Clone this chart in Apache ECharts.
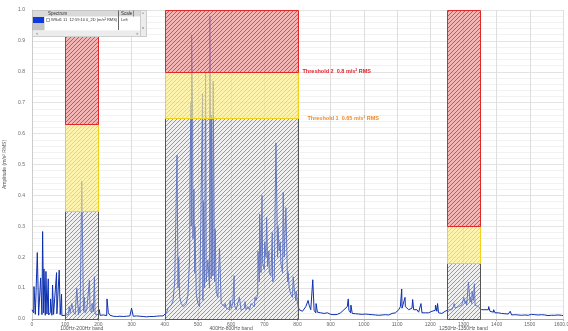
<!DOCTYPE html>
<html>
<head>
<meta charset="utf-8">
<script src="https://cdn.jsdelivr.net/npm/echarts@6/dist/echarts.min.js"></script>
<style>html,body{margin:0;padding:0;background:#fff}#c{width:568px;height:331px}</style>
</head>
<body>
<div id="c"></div>
<script>
// ---- DATA ----
const baseStepHz = 5;
const baselineAmp = [
 0.03,0.02,0.015,0.02,0.012,0.018,0.014,0.02,0.012,0.016,0.013,0.02,0.012,0.015,0.011,0.017,0.012,0.014,0.011,0.016,
 0.012,0.018,0.015,0.02,0.013,0.022,0.015,0.018,0.014,0.02,0.016,0.025,0.02,0.03,0.035,0.028,0.02,0.024,0.016,0.02,
 0.014,0.012,0.01,0.013,0.009,0.011,0.02,0.012,0.01,0.009,0.011,0.008,0.01,0.009,0.012,0.008,0.01,0.009,0.011,0.01,
 0.012,0.009,0.008,0.01,0.008,0.009,0.011,0.008,0.009,0.007,0.01,0.008,0.009,0.008,0.01,0.009,0.008,0.01,0.012,0.01,
 0.012,0.02,0.035,0.03,0.045,0.06,0.09,0.12,0.1,0.07,0.05,0.04,0.035,0.05,0.08,0.2,0.3,0.26,0.15,0.08,
 0.05,0.04,0.035,0.06,0.1,0.12,0.15,0.1,0.13,0.14,0.12,0.09,0.07,0.06,0.05,0.045,0.04,0.035,0.04,0.03,
 0.035,0.05,0.045,0.03,0.025,0.03,0.028,0.025,0.035,0.03,0.04,0.03,0.035,0.045,0.04,0.06,0.08,0.12,0.15,0.18,
 0.16,0.2,0.17,0.15,0.14,0.12,0.13,0.16,0.2,0.22,0.18,0.15,0.2,0.17,0.12,0.1,0.08,0.07,0.1,0.06,
 0.05,0.03,0.035,0.025,0.03,0.04,0.035,0.045,0.03,0.025,0.028,0.02,0.022,0.018,0.02,0.016,0.018,0.015,0.02,0.016,
 0.015,0.018,0.014,0.016,0.015,0.017,0.02,0.025,0.03,0.035,0.04,0.028,0.02,0.018,0.015,0.017,0.014,0.016,0.013,0.015,
 0.014,0.016,0.013,0.015,0.012,0.014,0.016,0.013,0.015,0.012,0.014,0.013,0.016,0.014,0.015,0.013,0.016,0.018,0.015,0.02,
 0.025,0.03,0.04,0.035,0.03,0.04,0.035,0.03,0.028,0.035,0.03,0.025,0.03,0.022,0.025,0.02,0.025,0.02,0.018,0.02,
 0.022,0.025,0.03,0.028,0.025,0.02,0.022,0.018,0.02,0.025,0.028,0.03,0.035,0.03,0.04,0.035,0.03,0.04,0.035,0.045,
 0.04,0.05,0.045,0.06,0.055,0.05,0.06,0.045,0.05,0.04,0.035,0.03,0.035,0.03,0.025,0.03,0.025,0.02,0.022,0.02,
 0.018,0.02,0.016,0.018,0.015,0.017,0.014,0.016,0.015,0.013,0.015,0.014,0.016,0.013,0.015,0.012,0.014,0.013,0.015,0.012,
 0.013,0.015,0.012,0.014,0.011,0.013,0.012,0.014,0.011,0.013,0.012,0.011,0.013,0.012,0.01,0.012,0.011,0.013,0.01,0.012,0.011
];
const peakFreq = [6,16,26,32,36,42,49,56,62,74,82,89,
 112,120,135,142,150,158,173,181,188,203,226,300,
 430,437,442,476,479,481,484,488,491,514,517,523,530,536,541,546,552,565,582,597,609,625,642,660,672,
 681,686,693,701,707,714,724,735,741,748,757,765,772,787,796,
 832,846,856,953,961,1114,1124,1147,1172,1216,1222,
 1272,1286,1301,1308,1315,1321,1326,1333,1341,1376,1391,1441];
const peakAmp = [0.105,0.215,0.133,0.283,0.162,0.154,0.13,0.065,0.11,0.15,0.158,0.08,
 0.04,0.05,0.1,0.04,0.446,0.07,0.125,0.05,0.137,0.03,0.065,0.035,
 0.12,0.53,0.2,0.45,0.7,0.92,0.66,0.42,0.3,0.73,0.38,0.80,0.19,0.98,0.66,0.77,0.29,0.23,0.05,0.06,0.14,0.07,0.056,0.05,0.07,
 0.22,0.34,0.40,0.25,0.33,0.22,0.28,0.57,0.3,0.25,0.41,0.36,0.15,0.137,0.09,
 0.06,0.127,0.05,0.065,0.045,0.097,0.07,0.063,0.05,0.045,0.05,
 0.05,0.045,0.07,0.06,0.12,0.07,0.09,0.114,0.05,0.04,0.03,0.025];

const bandStart = [100, 400, 1250];
const bandEnd = [200, 800, 1350];
const bandLevel1 = [0.35, 0.65, 0.18];
const bandLevel2 = [0.63, 0.80, 0.30];
const bandTop = 1.0;
const bandLabels = ['100Hz-200Hz band', '400Hz-800Hz band', '1250Hz-1350Hz band'];

const thresholdLabels = ['Threshold 2  0.8 m/s\u00b2 RMS', 'Threshold 1  0.65 m/s\u00b2 RMS'];
const thresholdValues = [0.8, 0.65];

const seriesName = 'WSd1 11  12:59:10 0_2D (m/s\u00b2 RMS)';
const xTicksMax = 1600;

// ---- BUILD ----
const pts = new Map();
baselineAmp.forEach((v, i) => pts.set(i * baseStepHz, v));
peakFreq.forEach((f, i) => pts.set(f, peakAmp[i]));
const spectrum = Array.from(pts.entries()).sort((a, b) => a[0] - b[0]);

function hatch(bg, fg) {
  const s = 4;
  const c = document.createElement('canvas');
  c.width = s; c.height = s;
  const g = c.getContext('2d');
  g.fillStyle = bg; g.fillRect(0, 0, s, s);
  g.strokeStyle = fg; g.lineWidth = 1;
  g.beginPath();
  g.moveTo(-1, s + 1); g.lineTo(s + 1, -1);
  g.moveTo(-1, 1); g.lineTo(1, -1);
  g.moveTo(s - 1, s + 1); g.lineTo(s + 1, s - 1);
  g.stroke();
  return c;
}
const kinds = [
  { fill: { image: hatch('rgba(225,225,225,0.45)', 'rgba(95,95,95,0.6)'), repeat: 'repeat' }, stroke: '#555' },
  { fill: { image: hatch('rgba(255,240,140,0.7)', 'rgba(240,205,40,0.7)'), repeat: 'repeat' }, stroke: '#f2d21c' },
  { fill: { image: hatch('rgba(240,150,150,0.7)', 'rgba(215,35,35,0.7)'), repeat: 'repeat' }, stroke: '#e02828' }
];

const bandRects = [];
bandStart.forEach((s, i) => {
  bandRects.push([s, bandEnd[i], 0, bandLevel1[i], 0]);
  bandRects.push([s, bandEnd[i], bandLevel1[i], bandLevel2[i], 1]);
  bandRects.push([s, bandEnd[i], bandLevel2[i], bandTop, 2]);
});

const chart = echarts.init(document.getElementById('c'), null, { renderer: 'canvas' });
const tickFont = { fontSize: 5, color: '#666', fontFamily: 'Liberation Sans' };

chart.setOption({
  animation: false,
  backgroundColor: '#fff',
  grid: { left: 32, right: 5, top: 10, bottom: 12, containLabel: false, outerBoundsMode: 'none' },
  xAxis: {
    type: 'value', min: 0, max: xTicksMax, interval: 100,
    name: 'Frequency (Hz)', nameLocation: 'middle', nameGap: 9,
    nameTextStyle: { fontSize: 5, color: '#555', fontFamily: 'Liberation Sans' },
    axisLine: { lineStyle: { color: '#aaa', width: 1 } },
    axisTick: { show: true, length: 2, lineStyle: { color: '#aaa' } },
    axisLabel: Object.assign({ margin: 3, formatter: v => v === xTicksMax ? v.toFixed(2) : String(v) }, tickFont),
    splitLine: { show: true, lineStyle: { color: '#dedede', width: 1 } }
  },
  yAxis: {
    type: 'value', min: 0, max: 1, interval: 0.1,
    name: 'Amplitude (m/s\u00b2 RMS)', nameLocation: 'middle', nameGap: 18, nameRotate: 90,
    nameTextStyle: { fontSize: 5, color: '#555', fontFamily: 'Liberation Sans' },
    axisLine: { show: true, lineStyle: { color: '#ccc' } },
    axisTick: { show: false },
    axisLabel: Object.assign({ margin: 7, formatter: v => v.toFixed(1) }, tickFont),
    splitLine: { show: true, lineStyle: { color: '#e4e4e4' } },
    minorTick: { show: false, splitNumber: 5 },
    minorSplitLine: { show: true, lineStyle: { color: '#f2f2f2' } }
  },
  series: [
    {
      type: 'line', name: seriesName, data: spectrum, showSymbol: false, z: 2,
      lineStyle: { color: '#0c2fb0', width: 1 }, itemStyle: { color: '#0c2fb0' }
    },
    {
      type: 'custom', z: 5, data: bandRects, clip: false,
      renderItem: (params, api) => {
        const p0 = api.coord([api.value(0), api.value(3)]);
        const p1 = api.coord([api.value(1), api.value(2)]);
        const k = kinds[api.value(4)];
        return {
          type: 'rect',
          shape: { x: Math.round(p0[0]) + 0.5, y: Math.round(p0[1]) + 0.5, width: Math.round(p1[0] - p0[0]), height: Math.round(p1[1] - p0[1]) },
          style: { fill: k.fill, stroke: k.stroke, lineWidth: 1 }
        };
      }
    },
    {
      type: 'custom', z: 6, clip: false,
      data: bandLabels.map((t, i) => [(bandStart[i] + bandEnd[i]) / 2, 0, i]),
      renderItem: (params, api) => {
        const p = api.coord([api.value(0), 0]);
        return { type: 'text', style: { text: bandLabels[api.value(2)], x: p[0], y: p[1] + 10, fill: '#555', fontSize: 5, fontFamily: 'Liberation Sans', align: 'center', verticalAlign: 'middle' } };
      }
    },
    {
      type: 'custom', z: 6, clip: false,
      data: thresholdValues.map((v, i) => [i === 0 ? 815 : 830, v, i]),
      renderItem: (params, api) => {
        const p = api.coord([api.value(0), api.value(1)]);
        const i = api.value(2);
        return { type: 'text', style: { text: thresholdLabels[i], x: p[0], y: p[1], fill: i === 0 ? '#e0202a' : '#f08a24', fontSize: 5.5, fontWeight: 'bold', fontFamily: 'Liberation Sans', align: 'left', verticalAlign: 'middle' } };
      }
    }
  ],
  graphic: [
    { type: 'rect', z: 100, shape: { x: 32.5, y: 10.5, width: 114, height: 26 }, style: { fill: '#fff', stroke: '#b0b0b0' } },
    { type: 'rect', z: 101, shape: { x: 32.5, y: 10.5, width: 108, height: 6 }, style: { fill: '#d9d9d9', stroke: null } },
    { type: 'rect', z: 101, shape: { x: 32.5, y: 16.5, width: 12, height: 14 }, style: { fill: '#c4c4c4' } },
    { type: 'rect', z: 102, shape: { x: 33, y: 17, width: 11, height: 6 }, style: { fill: '#0a3ae0' } },
    { type: 'rect', z: 102, shape: { x: 46.5, y: 18.5, width: 3, height: 3 }, style: { fill: '#fff', stroke: '#777', lineWidth: 0.6 } },
    { type: 'line', z: 102, shape: { x1: 118.5, y1: 10.5, x2: 118.5, y2: 30 }, style: { stroke: '#666', lineWidth: 1 } },
    { type: 'line', z: 102, shape: { x1: 133.5, y1: 10.5, x2: 133.5, y2: 16.5 }, style: { stroke: '#888', lineWidth: 1 } },
    { type: 'rect', z: 101, shape: { x: 32.5, y: 30.5, width: 108, height: 6 }, style: { fill: '#ececec' } },
    { type: 'rect', z: 101, shape: { x: 140.5, y: 10.5, width: 6, height: 26 }, style: { fill: '#ececec', stroke: '#ccc' } },
    { type: 'text', z: 103, style: { text: 'Spectrum', x: 48, y: 13.5, fontSize: 4.5, fill: '#333', verticalAlign: 'middle', fontFamily: 'Liberation Sans' } },
    { type: 'text', z: 103, style: { text: 'Scale', x: 121, y: 13.5, fontSize: 4.5, fill: '#333', verticalAlign: 'middle', fontFamily: 'Liberation Sans' } },
    { type: 'text', z: 103, style: { text: seriesName, x: 51, y: 20, fontSize: 4, fill: '#333', verticalAlign: 'middle', fontFamily: 'Liberation Sans' } },
    { type: 'text', z: 103, style: { text: 'Left', x: 121, y: 20, fontSize: 4, fill: '#333', verticalAlign: 'middle', fontFamily: 'Liberation Sans' } },
    { type: 'text', z: 103, style: { text: '<', x: 36, y: 33.5, fontSize: 4, fill: '#555', verticalAlign: 'middle' } },
    { type: 'text', z: 103, style: { text: '>', x: 136, y: 33.5, fontSize: 4, fill: '#555', verticalAlign: 'middle' } },
    { type: 'text', z: 103, style: { text: '^', x: 142, y: 14, fontSize: 4, fill: '#555', verticalAlign: 'middle' } },
    { type: 'text', z: 103, style: { text: 'v', x: 142, y: 28, fontSize: 4, fill: '#555', verticalAlign: 'middle' } }
  ]
});
</script>
</body>
</html>
